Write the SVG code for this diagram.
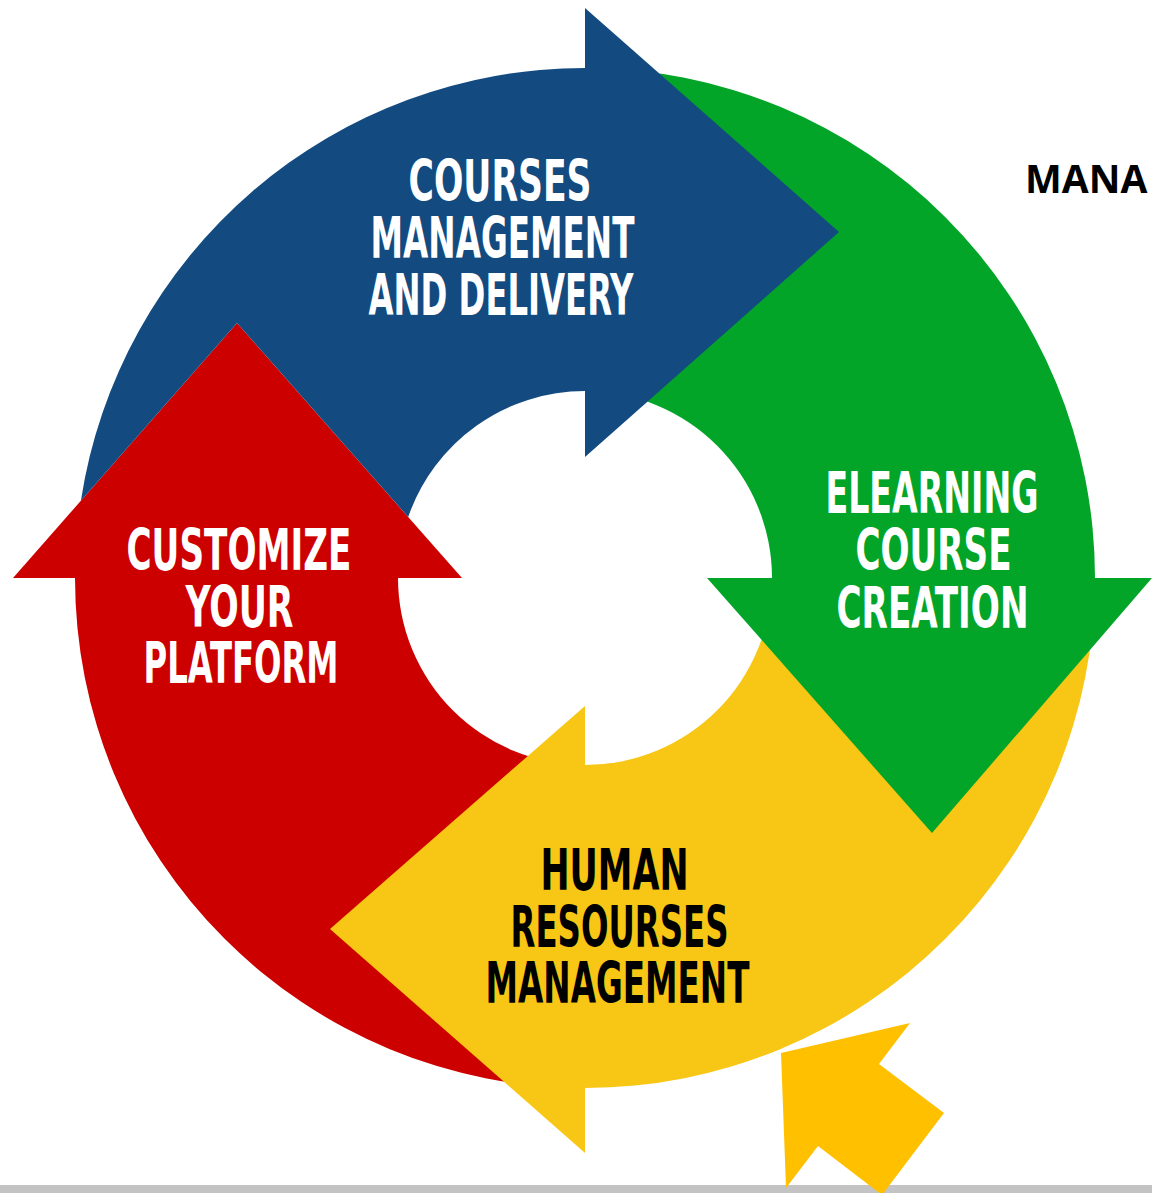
<svg xmlns="http://www.w3.org/2000/svg" width="1152" height="1193" viewBox="0 0 1152 1193">
<style>
.lbl{font-family:"Liberation Sans Narrow","DejaVu Sans Condensed","Liberation Sans",sans-serif;font-weight:bold;font-size:57px;text-anchor:middle}
.w{fill:#ffffff}
.k{fill:#000000}
.blue{fill:#134b80}
.green{fill:#03a528}
.yellow{fill:#f8c614}
.red{fill:#cd0000}
</style>
<rect x="0" y="0" width="1152" height="1193" fill="#ffffff"/>
<g id="node-customize">
<path class="red" d="M585 1088 A510 510 0 0 1 75 578 L398 578 A187 187 0 0 0 585 765 Z"/>
<polygon class="red" points="13,578 237,323 462,578"/>
<text class="lbl w" x="239" y="570" textLength="225" lengthAdjust="spacingAndGlyphs">CUSTOMIZE</text>
<text class="lbl w" x="239.5" y="627" textLength="108" lengthAdjust="spacingAndGlyphs">YOUR</text>
<text class="lbl w" x="241" y="683" textLength="195" lengthAdjust="spacingAndGlyphs">PLATFORM</text>
</g>
<g id="node-hr">
<path class="yellow" d="M1095 578 A510 510 0 0 1 585 1088 L585 765 A187 187 0 0 0 772 578 Z"/>
<polygon class="yellow" points="585,706 330,929 585,1153"/>
<text class="lbl k" x="614.5" y="890" textLength="148" lengthAdjust="spacingAndGlyphs">HUMAN</text>
<text class="lbl k" x="619.5" y="947" textLength="218" lengthAdjust="spacingAndGlyphs">RESOURSES</text>
<text class="lbl k" x="617.5" y="1003" textLength="264" lengthAdjust="spacingAndGlyphs">MANAGEMENT</text>
</g>
<g id="node-elearning">
<path class="green" d="M585 68 A510 510 0 0 1 1095 578 L772 578 A187 187 0 0 0 585 391 Z"/>
<polygon class="green" points="707,578 1152,578 932,833"/>
<text class="lbl w" x="932" y="513" textLength="213" lengthAdjust="spacingAndGlyphs">ELEARNING</text>
<text class="lbl w" x="933.5" y="570" textLength="156" lengthAdjust="spacingAndGlyphs">COURSE</text>
<text class="lbl w" x="932.5" y="628" textLength="192" lengthAdjust="spacingAndGlyphs">CREATION</text>
</g>
<g id="node-courses">
<path class="blue" d="M80.9 500.7 A510 510 0 0 1 585 68 L585 391 A187 187 0 0 0 408.2 517 L237 323 Z"/>
<polygon class="blue" points="585,8 839,232 585,457"/>
<text class="lbl w" x="500" y="201" textLength="183" lengthAdjust="spacingAndGlyphs">COURSES</text>
<text class="lbl w" x="502.5" y="258" textLength="264" lengthAdjust="spacingAndGlyphs">MANAGEMENT</text>
<text class="lbl w" x="501" y="315" textLength="265" lengthAdjust="spacingAndGlyphs">AND DELIVERY</text>
</g>
<g id="connectors"></g>
<text x="1025" y="193" font-family="'Open Sans','Liberation Sans',sans-serif" font-weight="bold" font-size="39" fill="#000000">MANA</text>
<rect x="0" y="1185" width="1152" height="8" fill="#c3c3c3"/>
<g id="pointer">
<polygon fill="#ffc000" points="781,1053 910,1023 879,1064 944,1113 882,1195 818,1146 786,1188"/>
</g>
</svg>
